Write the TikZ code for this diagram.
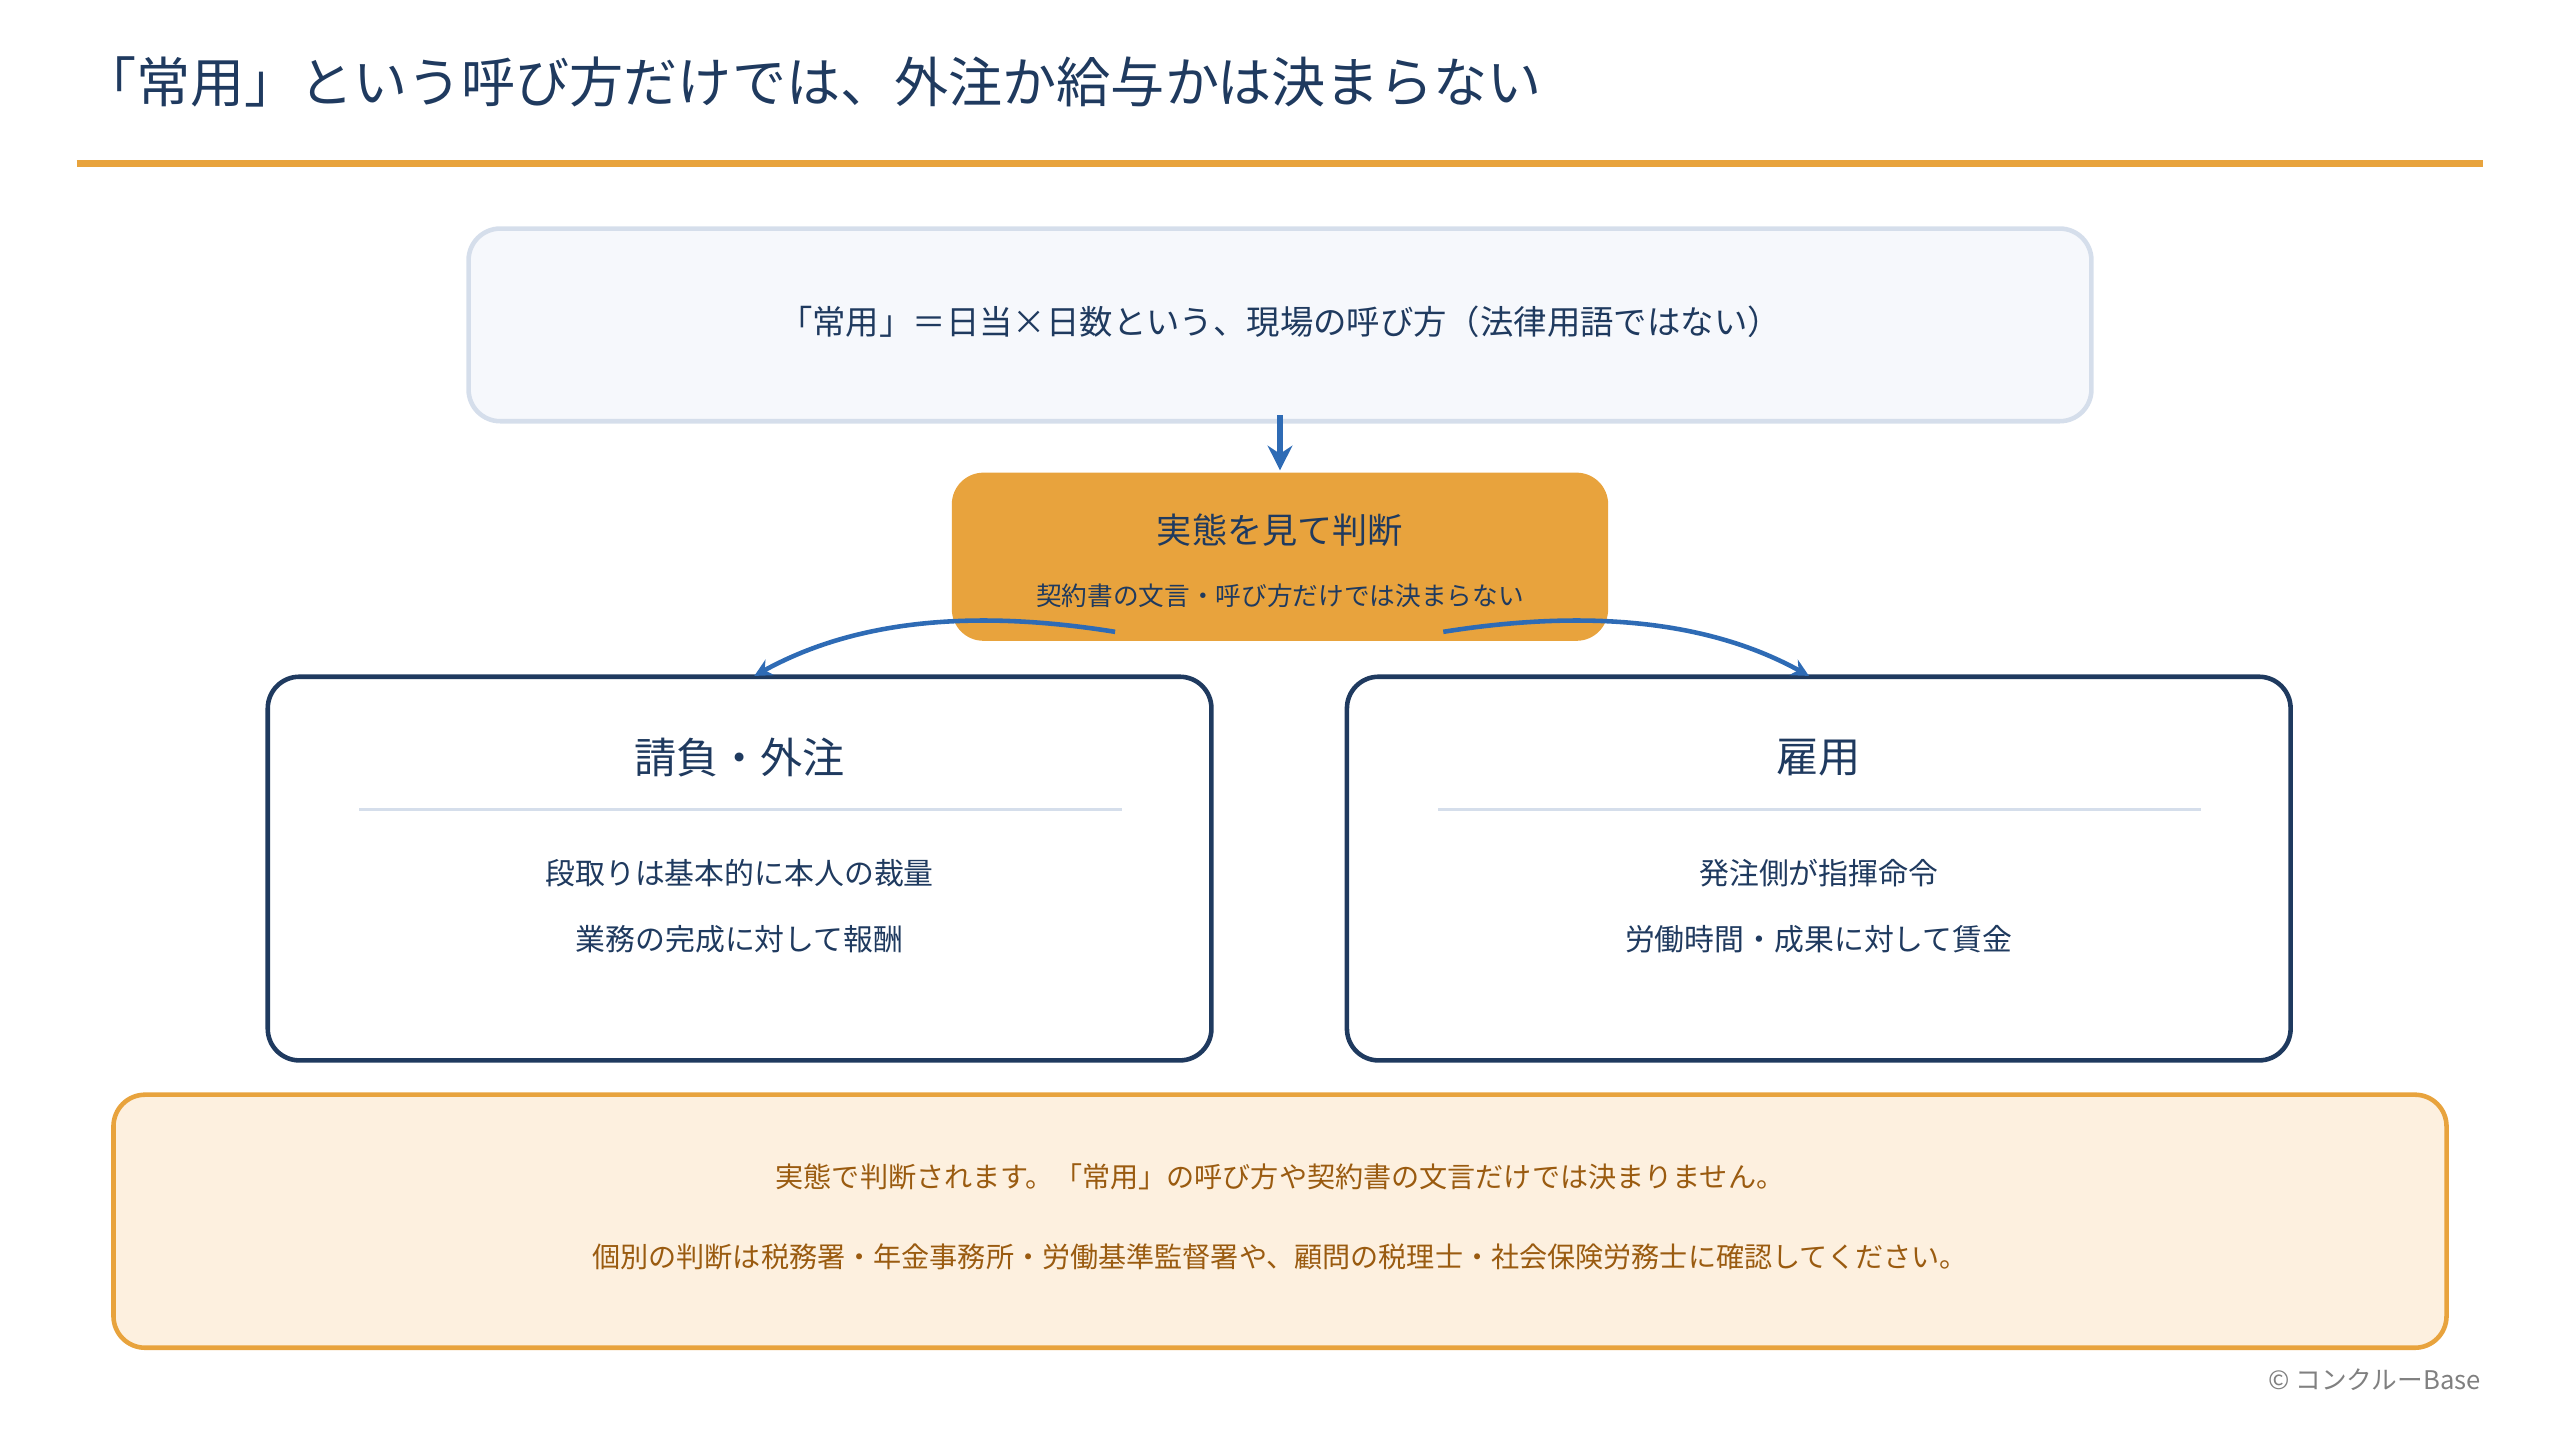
\documentclass[tikz,border=0pt]{standalone}
\usepackage{fontspec}
\setmainfont{Noto Sans CJK JP}
\usetikzlibrary{arrows.meta}
\definecolor{navy}{HTML}{1F3A5F}
\definecolor{accent}{HTML}{E8A33D}
\definecolor{flow}{HTML}{2E6BB5}
\definecolor{pale}{HTML}{F6F8FC}
\definecolor{edge}{HTML}{D5DEEB}
\definecolor{cream}{HTML}{FDF0DF}
\definecolor{brown}{HTML}{9A5B10}
\tikzset{
  box/.style={rounded corners=9pt, line width=1.3pt, inner sep=0pt},
  side/.style={box, draw=navy, fill=white, minimum width=578*0.01633cm, minimum height=235*0.01633cm},
  link/.style={flow, line width=1.3pt, -{Stealth[length=5pt,width=5pt]}}
}
\begin{document}
\begin{tikzpicture}[x=0.01633cm, y=-0.01633cm, text=navy]
\useasboundingbox (0,0) rectangle (1568,882);
\node[anchor=west, font=\fontsize{15.4}{18}\selectfont] (title) at (43,50) {「常用」という呼び方だけでは、外注か給与かは決まらない};
\draw[accent, line width=1.9pt] (47,100) -- (1521,100);
% top box
\node[box, draw=edge, fill=pale, minimum width=994*0.01633cm, minimum height=118*0.01633cm] (top) at (784,199) {};
\node[font=\fontsize{9.5}{11}\selectfont] (toptext) at (784,197) {「常用」＝日当×日数という、現場の呼び方（法律用語ではない）};
% judge
\node[box, draw=none, fill=accent, minimum width=402*0.01633cm, minimum height=103*0.01633cm] (judge) at (784,341) {};
\node[font=\fontsize{10}{12}\selectfont] (jtitle) at (784,325) {実態を見て判断};
\node[font=\fontsize{7.3}{8}\selectfont] (jsub) at (784,365) {契約書の文言・呼び方だけでは決まらない};
% sides
\node[side] (left) at (453,532) {};
\node[font=\fontsize{12}{14}\selectfont] (ltitle) at (453,464) {請負・外注};
\draw[edge, line width=0.8pt] (220,496) -- (687,496);
\node[font=\fontsize{8.5}{10}\selectfont] (l1) at (453,535) {段取りは基本的に本人の裁量};
\node[font=\fontsize{8.5}{10}\selectfont] (l2) at (453,575) {業務の完成に対して報酬};
\node[side] (right) at (1114,532) {};
\node[font=\fontsize{12}{14}\selectfont] (rtitle) at (1114,464) {雇用};
\draw[edge, line width=0.8pt] (881,496) -- (1348,496);
\node[font=\fontsize{8.5}{10}\selectfont] (r1) at (1114,535) {発注側が指揮命令};
\node[font=\fontsize{8.5}{10}\selectfont] (r2) at (1114,575) {労働時間・成果に対して賃金};
% arrows
\draw[link, line width=1.7pt, -{Stealth[length=7pt,width=7pt]}] ([yshift=5*0.01633cm]top.south) -- (judge.north);
\coordinate (jl) at (683,387);
\coordinate (jr) at (884,387);
\coordinate (lt) at (462,414);
\coordinate (rt) at (1108,414);
\draw[link] (jl) .. controls (590,372) and (520,382) .. (lt);
\draw[link] (jr) .. controls (978,372) and (1050,382) .. (rt);
% note
\node[box, draw=accent, fill=cream, minimum width=1429*0.01633cm, minimum height=155*0.01633cm] (note) at (784,748) {};
\node[text=brown, font=\fontsize{8}{10}\selectfont] (n1) at (784,721) {実態で判断されます。「常用」の呼び方や契約書の文言だけでは決まりません。};
\node[text=brown, font=\fontsize{8}{10}\selectfont] (n2) at (784,770) {個別の判断は税務署・年金事務所・労働基準監督署や、顧問の税理士・社会保険労務士に確認してください。};
\node[anchor=east, text=gray, font=\fontsize{7.3}{8}\selectfont] (copy) at (1527,845) {© コンクルーBase};
\end{tikzpicture}
\end{document}
